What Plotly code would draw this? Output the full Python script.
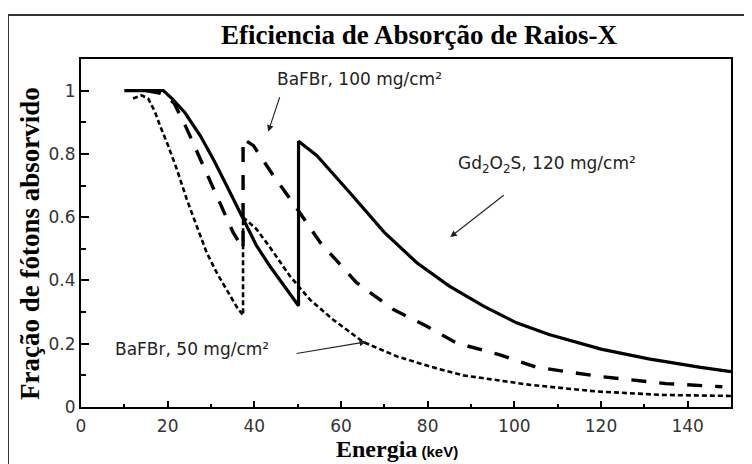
import plotly.graph_objects as go

# Gd2O2S, 120 mg/cm2 (solid)
gd_x = [10, 15, 19, 21, 24, 27.5, 30.5, 33.6, 36.7, 40.5, 43.6, 47, 50.2, 50.2, 54.4, 62, 70, 77.5, 85, 93, 100.5, 108, 120, 131, 143, 150]
gd_y = [1.0, 1.0, 1.0, 0.975, 0.93, 0.858, 0.784, 0.70, 0.615, 0.51, 0.445, 0.38, 0.32, 0.84, 0.795, 0.678, 0.552, 0.456, 0.382, 0.318, 0.266, 0.229, 0.183, 0.152, 0.125, 0.112]

# BaFBr, 100 mg/cm2 (dashed)
b100_x = [15, 19, 21.5, 24.4, 28.2, 31.7, 35.1, 37.4, 37.4, 39.8, 44.4, 49.4, 55.2, 63.6, 72.1, 79.8, 86.7, 96.7, 105, 120, 135, 148]
b100_y = [1.0, 0.99, 0.96, 0.88, 0.763, 0.657, 0.552, 0.5, 0.848, 0.826, 0.731, 0.636, 0.52, 0.393, 0.308, 0.255, 0.202, 0.165, 0.126, 0.096, 0.074, 0.064]

# BaFBr, 50 mg/cm2 (dotted)
b50_x = [12, 14, 15.5, 17, 18.5, 20, 22.1, 24.4, 26.7, 29, 31.5, 34, 36, 37.4, 37.4, 40.5, 43.6, 48.2, 52.8, 58.2, 65.2, 72.9, 80.5, 88.2, 95.9, 103.6, 119, 134.4, 150]
b50_y = [0.975, 0.985, 0.975, 0.935, 0.88, 0.83, 0.752, 0.657, 0.572, 0.488, 0.42, 0.36, 0.315, 0.29, 0.60, 0.562, 0.505, 0.414, 0.34, 0.276, 0.205, 0.16, 0.128, 0.10, 0.086, 0.07, 0.049, 0.038, 0.035]

y_tickvals = [0, 0.2, 0.4, 0.6, 0.8, 1.0]
y_ticktext = ["0", "0.2", "0.4", "0.6", "0.8", "1"]
x_tickvals = [0, 20, 40, 60, 80, 100, 120, 140]
x_ticktext = ["0", "20", "40", "60", "80", "100", "120", "140"]

fig = go.Figure()
fig.add_trace(go.Scatter(x=b50_x, y=b50_y, mode="lines",
                         line=dict(color="black", width=2.6, dash="5px,3px")))
fig.add_trace(go.Scatter(x=b100_x, y=b100_y, mode="lines",
                         line=dict(color="black", width=3.4, dash="15px,13px")))
fig.add_trace(go.Scatter(x=gd_x, y=gd_y, mode="lines",
                         line=dict(color="black", width=3.2)))

# page is offset by the 8px body margin
OFF = 8
W, H = 752 - OFF, 464 - OFF
PL, PR, PT, PB = 81, 731, 59, 407  # plot box in page pixels
ml, mr, mt, mb = PL - OFF, (752 - PR), PT - OFF, (464 - PB)
pw, ph = PR - PL, PB - PT

def px_x(p):
    return (p - PL) / pw

def px_y(p):
    return (PB - p) / ph

serif = "Liberation Serif, Times New Roman, serif"
sans = "DejaVu Sans, Verdana, sans-serif"
lab_font = dict(family=sans, size=17, color="#222")

annotations = [
    dict(text="BaFBr, 100 mg/cm²", x=64.2, y=1.038, xref="x", yref="y",
         showarrow=False, font=lab_font, xanchor="center", yanchor="middle"),
    dict(text="Gd<sub>2</sub>O<sub>2</sub>S, 120 mg/cm²", x=107.5, y=0.768, xref="x", yref="y",
         showarrow=False, font=lab_font, xanchor="center", yanchor="middle"),
    dict(text="BaFBr, 50 mg/cm²", x=25.6, y=0.184, xref="x", yref="y",
         showarrow=False, font=lab_font, xanchor="center", yanchor="middle"),
    # arrows
    dict(text="", x=43.2, y=0.87, xref="x", yref="y", showarrow=True, ax=12, ay=-36,
         arrowhead=2, arrowsize=1.2, arrowwidth=1.1, arrowcolor="#222"),
    dict(text="", x=85.2, y=0.537, xref="x", yref="y", showarrow=True, ax=55, ay=-43,
         arrowhead=2, arrowsize=1.2, arrowwidth=1.1, arrowcolor="#222"),
    dict(text="", x=65.8, y=0.206, xref="x", yref="y", showarrow=True, ax=-71, ay=12,
         arrowhead=2, arrowsize=1.2, arrowwidth=1.1, arrowcolor="#222"),
    # axis titles
    dict(text="<b>Fração de fótons absorvido</b>", x=px_x(30), y=px_y(244), xref="paper", yref="paper",
         showarrow=False, textangle=-90, font=dict(family=serif, size=27, color="black"),
         xanchor="center", yanchor="middle"),
    dict(text="<b>Energia</b><span style='font-family:Liberation Sans, Arial;font-size:15px'><b> (keV)</b></span>",
         x=px_x(397), y=px_y(449), xref="paper", yref="paper",
         showarrow=False, font=dict(family=serif, size=24, color="black"),
         xanchor="center", yanchor="middle", borderpad=0),
]

shapes = [
    dict(type="rect", xref="paper", yref="paper",
         x0=px_x(8), x1=1.2, y0=-0.4, y1=px_y(15),
         line=dict(color="#333", width=2), fillcolor="rgba(0,0,0,0)", layer="below"),
]

fig.update_layout(
    width=W, height=H,
    margin=dict(l=ml, r=mr, t=mt, b=mb),
    paper_bgcolor="white", plot_bgcolor="white",
    showlegend=False,
    title=dict(text="<b>Eficiencia de Absorção de Raios-X</b>",
               font=dict(family=serif, size=27, color="black"),
               x=px_x(419), xref="paper", xanchor="center",
               y=1 - (35 - OFF) / H, yref="container", yanchor="middle"),
    annotations=annotations,
    shapes=shapes,
    xaxis=dict(range=[0, 150], showgrid=False, zeroline=False,
               showline=True, linecolor="black", linewidth=2, mirror=True,
               ticks="inside", ticklen=6, tickwidth=1.5, tickcolor="black",
               tickvals=x_tickvals, ticktext=x_ticktext,
               tickfont=dict(family=sans, size=17, color="#333"),
               ticklabelstandoff=3,
               minor=dict(ticks="inside", ticklen=3, tickwidth=1.5, dtick=10, tickcolor="black")),
    yaxis=dict(range=[0, 1.1], showgrid=False, zeroline=False,
               showline=True, linecolor="black", linewidth=2, mirror=True,
               ticks="inside", ticklen=8, tickwidth=1.5, tickcolor="black",
               tickvals=y_tickvals, ticktext=y_ticktext,
               tickfont=dict(family=sans, size=17, color="#333"),
               minor=dict(ticks="inside", ticklen=5, tickwidth=1.5, dtick=0.1, tickcolor="black")),
)

fig.write_html("out.html")
